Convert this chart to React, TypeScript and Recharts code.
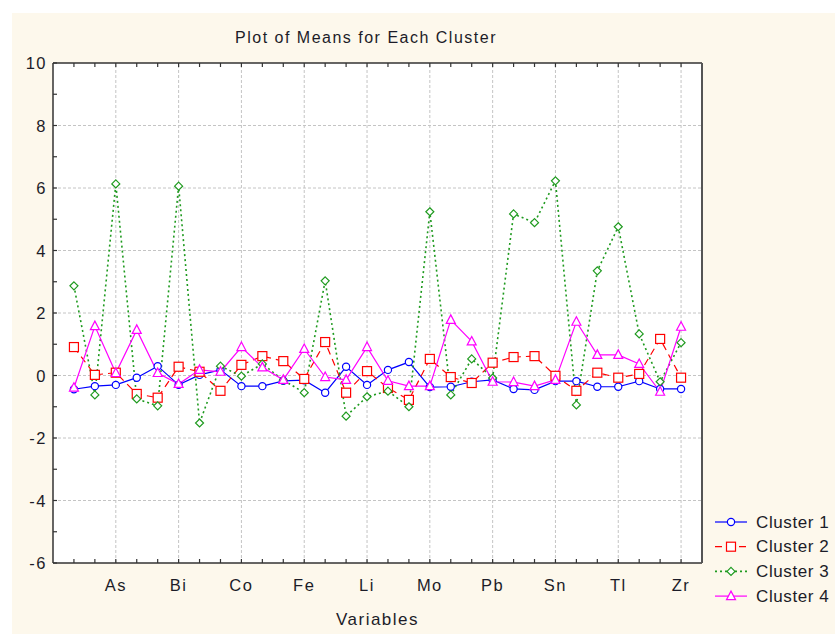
import React from 'react'
import { LineChart, Line, XAxis, YAxis, CartesianGrid, ReferenceLine } from 'recharts'

const variables = ['Ag', 'Al', 'As', 'Au', 'Ba', 'Bi', 'Ca', 'Cd', 'Co', 'Cr', 'Cu', 'Fe', 'K', 'La', 'Li',
  'Mg', 'Mn', 'Mo', 'Na', 'Ni', 'Pb', 'S', 'Sb', 'Sn', 'Sr', 'Ti', 'Tl', 'V', 'Zn', 'Zr']
const labeledVariables = ['As', 'Bi', 'Co', 'Fe', 'Li', 'Mo', 'Pb', 'Sn', 'Tl', 'Zr']

const cluster1 = [-0.44, -0.34, -0.3, -0.07, 0.3, -0.3, 0.02, 0.18, -0.34, -0.34, -0.17, -0.15, -0.55, 0.28, -0.3,
  0.18, 0.43, -0.37, -0.36, -0.2, -0.14, -0.43, -0.46, -0.18, -0.18, -0.36, -0.36, -0.18, -0.43, -0.43]
const cluster2 = [0.91, 0.02, 0.09, -0.59, -0.71, 0.28, 0.12, -0.49, 0.34, 0.62, 0.46, -0.11, 1.07, -0.55, 0.14,
  -0.4, -0.78, 0.53, -0.05, -0.24, 0.41, 0.59, 0.62, -0.01, -0.49, 0.09, -0.07, 0.05, 1.17, -0.07]
const cluster3 = [2.87, -0.62, 6.13, -0.75, -0.97, 6.06, -1.52, 0.3, -0.02, 0.37, -0.15, -0.55, 3.03, -1.3, -0.68,
  -0.5, -1.0, 5.24, -0.62, 0.53, -0.08, 5.17, 4.89, 6.23, -0.94, 3.35, 4.76, 1.33, -0.2, 1.05]
const cluster4 = [-0.39, 1.58, 0.08, 1.46, 0.08, -0.27, 0.18, 0.12, 0.91, 0.26, -0.14, 0.85, -0.05, -0.14, 0.91,
  -0.17, -0.34, -0.34, 1.78, 1.09, -0.2, -0.21, -0.34, -0.14, 1.72, 0.66, 0.66, 0.37, -0.52, 1.56]

const yTicks = [-6, -5, -4, -3, -2, -1, 0, 1, 2, 3, 4, 5, 6, 7, 8, 9, 10]

const data = variables.map((name, i) => ({
  idx: i + 1,
  name,
  c1: cluster1[i],
  c2: cluster2[i],
  c3: cluster3[i],
  c4: cluster4[i],
}))
const xTicks = data.map((d) => d.idx)

const series = [
  { key: 'c1', name: 'Cluster 1', color: '#0000ff', dash: undefined, width: 1.2, shape: 'circle' },
  { key: 'c2', name: 'Cluster 2', color: '#ff0000', dash: '7 5', width: 1.2, shape: 'square' },
  { key: 'c3', name: 'Cluster 3', color: '#1e9a1e', dash: '2 3', width: 1.6, shape: 'diamond' },
  { key: 'c4', name: 'Cluster 4', color: '#ff00ff', dash: undefined, width: 1.2, shape: 'triangle' },
]

const font = '"Liberation Sans", Arial, sans-serif'
const ink = '#1c1c28'
const frame = '#333'
const spacing = 1.5

function Marker({ shape, cx, cy, color }: { shape: string; cx: number; cy: number; color: string }) {
  const common = { fill: '#fff', stroke: color, strokeWidth: 1.2 }
  if (shape === 'circle') return <circle cx={cx} cy={cy} r={3.6} {...common} />
  if (shape === 'square') return <rect x={cx - 4.5} y={cy - 4.5} width={9} height={9} {...common} />
  if (shape === 'diamond')
    return <polygon points={`${cx},${cy - 4} ${cx + 4},${cy} ${cx},${cy + 4} ${cx - 4},${cy}`} {...common} />
  return <polygon points={`${cx},${cy - 5} ${cx + 4.5},${cy + 3.5} ${cx - 4.5},${cy + 3.5}`} {...common} />
}

const BottomTick = (props: any) => {
  const { x, y, payload } = props
  const label = variables[payload.value - 1]
  const show = labeledVariables.includes(label)
  return (
    <g>
      <line x1={x} y1={y} x2={x} y2={y - 4} stroke={frame} strokeWidth={1.2} />
      {show && (
        <text x={x} y={y + 22} textAnchor="middle" dominantBaseline="central" fill={ink} fontSize={16.5}
          fontFamily={font} letterSpacing={spacing}>
          {label}
        </text>
      )}
    </g>
  )
}

const TopTick = (props: any) => {
  const { x, y } = props
  return <line x1={x} y1={y} x2={x} y2={y + 4} stroke={frame} strokeWidth={1.2} />
}

const LeftTick = (props: any) => {
  const { x, y, payload } = props
  const show = payload.value % 2 === 0
  return (
    <g>
      <line x1={x} y1={y} x2={x + 4} y2={y} stroke={frame} strokeWidth={1.2} />
      {show && (
        <text x={x - 6} y={y} textAnchor="end" dominantBaseline="central" fill={ink} fontSize={16.5}
          fontFamily={font} letterSpacing={spacing}>
          {payload.value}
        </text>
      )}
    </g>
  )
}

const RightTick = (props: any) => {
  const { x, y } = props
  return <line x1={x} y1={y} x2={x - 4} y2={y} stroke={frame} strokeWidth={1.2} />
}

export default function App() {
  return (
    <div style={{ position: 'absolute', left: 0, top: 0, width: 835, height: 634, background: '#fff', overflow: 'hidden' }}>
      <div style={{ position: 'absolute', left: 12, top: 13, right: 0, bottom: 0, background: '#fdf8ec' }} />
      <div
        style={{
          position: 'absolute', left: 0, width: 732, top: 29, textAlign: 'center',
          fontFamily: font, fontSize: 16, color: ink, letterSpacing: spacing,
        }}
      >
        Plot of Means for Each Cluster
      </div>
      <div
        style={{
          position: 'absolute', left: 53, width: 649, top: 610, textAlign: 'center',
          fontFamily: font, fontSize: 17, color: ink, letterSpacing: spacing,
        }}
      >
        Variables
      </div>
      <div style={{ position: 'absolute', left: 0, top: 0 }}>
        <LineChart width={835} height={634} data={data} margin={{ top: 62, right: 132, bottom: 31, left: 13 }}>
          <CartesianGrid fill="#fff" horizontal={false} vertical={false} stroke="none" />
          <XAxis
            dataKey="idx" type="number" domain={[0, 31]} ticks={xTicks} interval={0}
            height={40} tickSize={0} tickMargin={0} tick={<BottomTick />}
            axisLine={{ stroke: frame, strokeWidth: 1.5 }} tickLine={false}
          />
          <XAxis
            xAxisId="top" orientation="top" dataKey="idx" type="number" domain={[0, 31]} ticks={xTicks}
            interval={0} height={1} tickSize={0} tickMargin={0} tick={<TopTick />}
            axisLine={{ stroke: frame, strokeWidth: 1.5 }} tickLine={false}
          />
          <YAxis
            type="number" domain={[-6, 10]} ticks={yTicks} interval={0} width={40}
            tickSize={0} tickMargin={0} tick={<LeftTick />}
            axisLine={{ stroke: frame, strokeWidth: 1.5 }} tickLine={false}
          />
          <YAxis
            yAxisId="right" orientation="right" type="number" domain={[-6, 10]} ticks={yTicks} interval={0}
            width={1} tickSize={0} tickMargin={0} tick={<RightTick />}
            axisLine={{ stroke: '#555', strokeWidth: 2 }} tickLine={false}
          />
          {yTicks.filter((v) => v % 2 === 0 && v > -6 && v < 10).map((v) => (
            <ReferenceLine key={'h' + v} y={v} stroke="#c4c4c4" strokeDasharray="3 2" />
          ))}
          {data.filter((d) => labeledVariables.includes(d.name)).map((d) => (
            <ReferenceLine key={'v' + d.idx} x={d.idx} stroke="#c4c4c4" strokeDasharray="3 2" />
          ))}
          {series.map((s) => (
            <Line
              key={s.key}
              dataKey={s.key}
              name={s.name}
              type="linear"
              stroke={s.color}
              strokeWidth={s.width}
              strokeDasharray={s.dash}
              isAnimationActive={false}
              dot={(p: any) => <Marker key={s.key + p.index} shape={s.shape} cx={p.cx} cy={p.cy} color={s.color} />}
            />
          ))}
        </LineChart>
      </div>
      <svg style={{ position: 'absolute', left: 708, top: 508 }} width={127} height={100}>
        {series.map((s, i) => {
          const y = 14 + i * 24.7
          return (
            <g key={s.key}>
              <line x1={7} x2={39} y1={y} y2={y} stroke={s.color} strokeWidth={s.width} strokeDasharray={s.dash} />
              <Marker shape={s.shape} cx={23} cy={y} color={s.color} />
              <text x={48} y={y} dominantBaseline="central" fill={ink} fontSize={17} fontFamily={font}
                letterSpacing={0.6}>
                {s.name}
              </text>
            </g>
          )
        })}
      </svg>
    </div>
  )
}
